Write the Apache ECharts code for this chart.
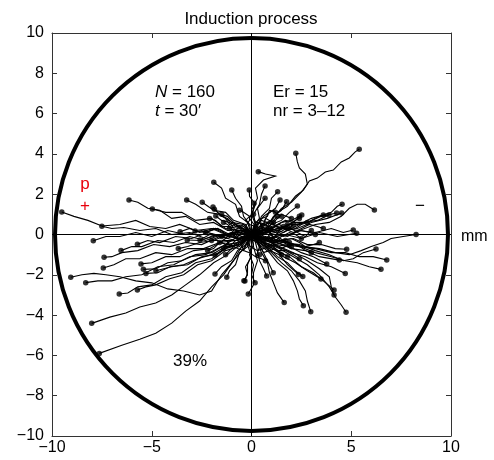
<!DOCTYPE html>
<html>
<head>
<meta charset="utf-8">
<script src="https://cdn.jsdelivr.net/npm/echarts@6.0.0/dist/echarts.min.js"></script>
<style>
  html, body { margin: 0; padding: 0; background: #fff; }
  #chart { width: 494px; height: 460px; }
</style>
</head>
<body>
<div id="chart"></div>
<script>
// tracks, every one starts at the origin, last point = end dot
const leftTracks = [
  [[0,0],[-0.6,0.2],[-1.3,0.0],[-2.0,0.3],[-2.8,0.2],[-3.6,0.5],[-4.3,0.3],[-5.1,0.4],[-5.8,0.7],[-6.6,0.5],[-7.5,0.42],[-8.2,0.7],[-8.9,0.9],[-9.51,1.12]],
  [[0,0],[-0.7,-0.2],[-1.5,0.0],[-2.3,-0.2],[-3.1,0.1],[-4.0,0.0],[-4.8,0.3],[-5.6,0.2],[-6.4,0.35],[-7.0,0.3],[-7.5,0.41]],
  [[0,0],[-0.5,0.3],[-1.2,0.2],[-1.9,0.6],[-2.6,0.5],[-3.3,0.9],[-4.0,0.8],[-4.6,1.2],[-5.2,1.3],[-5.7,1.6],[-6.14,1.71]],
  [[0,0],[-0.6,0.4],[-1.3,0.3],[-2.0,0.8],[-2.8,0.7],[-3.5,1.1],[-4.3,1.1],[-4.97,1.27]],
  [[0,0],[-0.4,0.5],[-1.0,0.6],[-1.6,1.0],[-2.2,1.1],[-2.8,1.5],[-3.25,1.71]],
  [[0,0],[-0.3,0.5],[-0.9,0.7],[-1.3,1.1],[-1.9,1.2],[-2.47,1.6]],
  [[0,0],[-0.2,0.6],[-0.6,0.9],[-0.8,1.5],[-1.3,1.8],[-1.5,2.3],[-1.89,2.59]],
  [[0,0],[-0.8,0.1],[-1.6,-0.1],[-2.5,0.2],[-3.3,0.0],[-4.2,0.2],[-5.0,-0.1],[-5.8,0.1],[-6.6,-0.1],[-7.3,-0.1],[-7.93,-0.31]],
  [[0,0],[-0.7,-0.2],[-1.5,0.0],[-2.3,-0.3],[-3.1,-0.1],[-3.9,-0.4],[-4.7,-0.3],[-5.5,-0.6],[-6.0,-0.6],[-6.54,-0.8]],
  [[0,0],[-0.8,-0.3],[-1.6,-0.1],[-2.5,-0.5],[-3.3,-0.4],[-4.1,-0.6],[-4.9,-0.5],[-5.7,-0.8],[-6.5,-0.9],[-7.0,-1.1],[-7.39,-1.13]],
  [[0,0],[-0.7,0.1],[-1.4,-0.1],[-2.2,0.1],[-3.0,-0.2],[-3.8,-0.1],[-4.6,-0.4],[-5.2,-0.3],[-5.72,-0.49]],
  [[0,0],[-0.6,-0.2],[-1.2,0.0],[-1.9,-0.3],[-2.6,-0.4],[-3.2,-0.6],[-3.67,-0.7]],
  [[0,0],[-0.5,0.2],[-1.1,0.0],[-1.7,0.3],[-2.3,0.1],[-2.83,0.17]],
  [[0,0],[-0.4,0.4],[-0.8,0.5],[-1.2,0.9],[-1.6,1.0],[-1.93,1.36]],
  [[0,0],[-0.8,-0.3],[-1.6,-0.4],[-2.4,-0.7],[-3.2,-0.7],[-4.0,-1.0],[-4.8,-0.9],[-5.6,-1.2],[-6.3,-1.2],[-6.9,-1.5],[-7.43,-1.66]],
  [[0,0],[-0.7,-0.3],[-1.4,-0.3],[-2.1,-0.7],[-2.9,-0.8],[-3.6,-1.1],[-4.3,-1.1],[-5.0,-1.4],[-5.54,-1.46]],
  [[0,0],[-0.6,-0.4],[-1.3,-0.5],[-2.0,-0.9],[-2.8,-1.0],[-3.5,-1.3],[-4.2,-1.4],[-4.8,-1.7],[-5.42,-1.73]],
  [[0,0],[-0.6,-0.5],[-1.3,-0.6],[-2.0,-1.0],[-2.7,-1.2],[-3.4,-1.5],[-4.1,-1.6],[-4.7,-1.9],[-5.29,-1.93]],
  [[0,0],[-0.5,-0.5],[-1.2,-0.6],[-1.8,-1.0],[-2.5,-1.1],[-3.2,-1.5],[-4.0,-1.6],[-4.79,-1.8]],
  [[0,0],[-0.5,-0.6],[-0.9,-1.3],[-1.5,-2.0],[-2.0,-2.8],[-2.6,-3.0],[-3.4,-2.8],[-4.2,-2.7],[-5.0,-2.4],[-5.8,-2.3],[-6.6,-2.1],[-7.3,-2.0],[-7.9,-1.93],[-8.5,-2.0],[-9.06,-2.12]],
  [[0,0],[-0.7,-0.4],[-1.5,-0.6],[-2.3,-1.0],[-3.1,-1.1],[-3.9,-1.5],[-4.7,-1.6],[-5.5,-2.0],[-6.3,-2.1],[-7.0,-2.3],[-7.7,-2.3],[-8.31,-2.39]],
  [[0,0],[-0.6,-0.5],[-1.3,-0.7],[-2.0,-1.2],[-2.8,-1.4],[-3.5,-1.9],[-4.3,-2.1],[-5.0,-2.5],[-5.7,-2.6],[-6.2,-2.9],[-6.63,-2.95]],
  [[0,0],[-0.6,-0.6],[-1.3,-0.8],[-2.0,-1.3],[-2.7,-1.5],[-3.4,-2.0],[-4.1,-2.2],[-4.8,-2.5],[-5.3,-2.6],[-5.72,-2.75]],
  [[0,0],[-0.6,-0.5],[-1.2,-1.0],[-1.9,-1.4],[-2.6,-2.0],[-3.3,-2.5],[-4.0,-3.0],[-4.8,-3.4],[-5.6,-3.6],[-6.3,-3.9],[-7.1,-4.1],[-8.01,-4.41]],
  [[0,0],[-0.4,-0.7],[-0.9,-1.3],[-1.4,-2.0],[-2.0,-2.6],[-2.6,-3.3],[-3.3,-3.8],[-4.0,-4.4],[-4.8,-4.9],[-5.6,-5.2],[-6.5,-5.5],[-7.63,-5.9]],
  [[0,0],[-0.3,-0.5],[-0.7,-0.8],[-1.0,-1.3],[-1.5,-1.6],[-1.83,-1.96]],
  [[0,0],[-0.2,-0.6],[-0.6,-0.9],[-0.8,-1.5],[-1.1,-1.8],[-1.24,-2.12]],
  [[0,0],[-0.2,-0.5],[0.0,-1.1],[-0.3,-1.6],[-0.2,-2.0],[-0.38,-2.29]],
  [[0,0],[0.1,-0.6],[0.3,-1.3],[0.1,-1.9],[0.1,-2.5],[-0.16,-2.95]],
  [[0,0],[-0.4,0.3],[-0.8,0.4],[-1.2,0.8],[-1.5,0.9],[-1.86,1.25]],
  [[0,0],[-0.1,0.5],[-0.4,0.9],[-0.5,1.4],[-0.8,1.8],[-0.99,2.21]],
  [[0,0],[0.2,0.5],[0.0,1.0],[0.2,1.5],[-0.1,1.9],[-0.11,2.21]],
  [[0,0],[-0.4,0.2],[-0.8,0.2],[-1.1,0.6],[-1.5,0.7],[-1.79,0.92]],
  [[0,0],[-0.6,0.2],[-1.2,0.0],[-1.9,0.3],[-2.6,0.1],[-3.1,0.3],[-3.58,0.14]],
  [[0,0],[-0.6,0.1],[-1.2,-0.2],[-1.8,0.0],[-2.5,-0.3],[-3.22,-0.27]],
  [[0,0],[-0.5,-0.1],[-1.0,0.1],[-1.6,-0.1],[-2.1,0.0],[-2.58,-0.27]],
  [[0,0],[-0.4,-0.2],[-0.8,-0.3],[-1.1,-0.6],[-1.5,-0.8],[-1.83,-1.02]]
];

const rightTracks = [
  [[0,0],[0.4,0.4],[0.9,0.6],[1.3,1.1],[1.8,1.4],[2.2,1.9],[2.6,2.2],[2.9,2.66],[3.3,2.8],[3.7,3.1],[4.1,3.2],[4.5,3.6],[4.9,3.8],[5.2,4.1],[5.4,4.23]],
  [[0,0],[0.5,0.5],[1.0,0.7],[1.5,1.3],[2.0,1.6],[2.5,2.1],[2.8,2.5],[2.7,3.0],[2.4,3.3],[2.3,3.6],[2.22,4.03]],
  [[0,0],[0.2,0.6],[0.0,1.2],[0.3,1.8],[0.2,2.3],[0.6,2.7],[1.2,2.9],[0.7,3.0],[0.34,3.12]],
  [[0,0],[0.2,0.5],[0.1,1.0],[0.4,1.5],[0.5,2.0],[0.68,2.41]],
  [[0,0],[0.3,0.4],[0.5,0.9],[0.9,1.3],[1.0,1.8],[1.31,2.12]],
  [[0,0],[0.1,0.4],[0.4,0.8],[0.3,1.3],[0.68,1.8]],
  [[0,0],[0.3,0.3],[0.6,0.5],[0.8,1.0],[1.2,1.3],[1.43,1.71]],
  [[0,0],[0.4,0.3],[0.8,0.4],[1.1,0.9],[1.5,1.2],[1.76,1.63]],
  [[0,0],[0.2,0.4],[-0.1,0.8],[0.1,1.2],[0.13,1.55]],
  [[0,0],[0.5,0.2],[1.0,0.5],[1.5,0.7],[1.9,1.1],[2.3,1.41]],
  [[0,0],[0.7,0.2],[1.4,0.1],[2.1,0.5],[2.8,0.6],[3.4,0.9],[4.0,1.1],[4.3,1.4],[4.54,1.5]],
  [[0,0],[0.8,0.1],[1.6,0.3],[2.4,0.2],[3.2,0.5],[3.9,0.6],[4.5,0.9],[4.9,1.3],[5.3,1.5],[5.7,1.5],[6.16,1.22]],
  [[0,0],[0.6,0.2],[1.2,0.1],[1.8,0.5],[2.4,0.5],[3.0,0.8],[3.6,0.97]],
  [[0,0],[0.7,0.1],[1.3,0.3],[2.0,0.3],[2.6,0.6],[3.3,0.7],[3.88,0.97]],
  [[0,0],[0.7,0.3],[1.4,0.2],[2.1,0.6],[2.8,0.6],[3.5,0.9],[4.27,1.07]],
  [[0,0],[0.8,0.1],[1.5,0.4],[2.3,0.3],[3.0,0.6],[3.8,0.8],[4.52,1.07]],
  [[0,0],[0.8,0.1],[1.6,-0.1],[2.4,0.2],[3.2,0.1],[4.0,0.3],[4.6,0.1],[5.1,0.22]],
  [[0,0],[0.8,-0.2],[1.7,0.0],[2.5,-0.2],[3.4,0.1],[4.3,-0.1],[5.27,0.06]],
  [[0,0],[0.8,-0.3],[1.7,-0.4],[2.6,-0.6],[3.4,-0.7],[4.2,-0.9],[4.9,-1.0],[5.5,-0.8],[6.0,-0.6],[6.6,-0.4],[7.0,-0.2],[7.6,-0.1],[8.25,0.0]],
  [[0,0],[0.7,-0.1],[1.4,-0.3],[2.1,-0.2],[2.8,-0.5],[3.5,-0.5],[4.2,-0.7],[4.77,-0.73]],
  [[0,0],[0.8,-0.2],[1.6,-0.4],[2.4,-0.5],[3.2,-0.8],[3.9,-1.0],[4.6,-1.3],[5.1,-1.2],[5.6,-0.9],[6.24,-0.72]],
  [[0,0],[0.8,-0.3],[1.6,-0.3],[2.4,-0.6],[3.2,-0.7],[4.0,-0.9],[4.7,-0.9],[5.4,-1.1],[6.1,-1.1],[6.78,-1.27]],
  [[0,0],[0.6,-0.3],[1.3,-0.4],[2.0,-0.7],[2.7,-0.8],[3.4,-1.1],[4.4,-1.27]],
  [[0,0],[0.8,-0.3],[1.6,-0.5],[2.4,-0.6],[3.2,-0.9],[4.0,-1.1],[4.7,-1.3],[5.3,-1.4],[5.9,-1.6],[6.49,-1.73]],
  [[0,0],[0.6,-0.4],[1.3,-0.6],[2.0,-0.9],[2.7,-1.1],[3.3,-1.4],[4.0,-1.6],[4.7,-1.93]],
  [[0,0],[0.5,-0.4],[1.1,-0.7],[1.6,-1.1],[2.2,-1.4],[2.8,-1.8],[3.48,-2.21]],
  [[0,0],[0.4,-0.4],[0.9,-0.7],[1.3,-1.1],[1.8,-1.4],[2.2,-1.8],[2.57,-2.09]],
  [[0,0],[0.5,-0.3],[0.9,-0.8],[1.4,-1.0],[1.8,-1.5],[2.35,-1.98]],
  [[0,0],[0.6,-0.4],[1.2,-0.8],[1.9,-1.1],[2.5,-1.6],[3.1,-1.9],[3.6,-2.3],[4.14,-2.75]],
  [[0,0],[0.7,-0.3],[1.4,-0.6],[2.1,-0.9],[2.8,-1.3],[3.4,-1.7],[3.9,-2.1],[4.0,-2.6],[4.14,-3.0]],
  [[0,0],[0.7,-0.4],[1.4,-0.7],[2.1,-1.1],[2.8,-1.5],[3.4,-2.0],[3.9,-2.6],[4.2,-3.1],[4.5,-3.5],[4.74,-3.86]],
  [[0,0],[0.5,-0.5],[1.0,-0.9],[1.5,-1.4],[2.0,-1.8],[2.4,-2.3],[2.7,-2.8],[2.8,-3.3],[2.97,-3.83]],
  [[0,0],[0.4,-0.5],[0.9,-0.9],[1.3,-1.4],[1.8,-1.8],[2.1,-2.3],[2.3,-2.8],[2.4,-3.2],[2.6,-3.53]],
  [[0,0],[0.3,-0.4],[0.5,-0.9],[0.8,-1.4],[0.9,-1.9],[1.1,-2.4],[1.3,-2.9],[1.64,-3.38]],
  [[0,0],[0.2,-0.4],[0.3,-0.8],[0.4,-1.3],[0.6,-1.7],[0.76,-2.06]],
  [[0,0],[0.3,-0.3],[0.5,-0.7],[0.7,-1.1],[0.9,-1.5],[1.09,-1.9]],
  [[0,0],[0.1,-0.5],[-0.1,-1.0],[0.1,-1.5],[0.0,-2.0],[0.18,-2.39]],
  [[0,0],[-0.1,-0.5],[0.0,-1.0],[-0.2,-1.5],[-0.2,-1.9],[-0.33,-2.31]],
  [[0,0],[0.6,-0.2],[1.2,-0.5],[1.9,-0.6],[2.5,-0.9],[3.1,-1.1],[3.77,-1.46]],
  [[0,0],[0.5,0.2],[1.0,0.3],[1.5,0.6],[2.0,0.7],[2.52,0.97]]
];

// short ones that make the dark knot round the origin
const centerTracks = [
  [[0,0],[0.3,0.2],[0.5,-0.1],[0.8,0.3],[1.1,-0.2],[1.4,0.2],[1.6,0.4]],
  [[0,0],[-0.2,0.3],[-0.4,0.5],[-0.7,0.3],[-0.9,0.2],[-1.2,0.5],[-1.4,0.6]],
  [[0,0],[0.3,-0.2],[0.6,-0.4],[0.9,-0.2],[1.2,-0.1],[1.6,-0.4],[2.0,-0.6]],
  [[0,0],[-0.3,-0.1],[-0.5,-0.3],[-0.8,-0.1],[-1.0,0.1],[-1.3,-0.2],[-1.6,-0.4]],
  [[0,0],[0.2,0.3],[0.3,0.6],[0.6,0.5],[0.9,0.4],[1.1,0.7],[1.3,0.9]],
  [[0,0],[0.2,-0.3],[0.4,-0.6],[0.3,-0.9],[0.2,-1.1],[0.5,-1.2],[0.7,-1.3]],
  [[0,0],[-0.2,0.2],[-0.3,0.4],[-0.1,0.7],[-0.1,0.9],[-0.4,1.1],[-0.6,1.2]],
  [[0,0],[0.4,0.1],[0.7,0.1],[1.0,0.4],[1.4,0.5],[1.8,0.2],[2.2,0.3],[2.5,0.5],[2.8,0.6]],
  [[0,0],[0.4,-0.1],[0.8,-0.2],[1.1,-0.5],[1.5,-0.7],[1.9,-0.5],[2.3,-0.5],[2.7,-0.8],[3.0,-0.9]],
  [[0,0],[-0.3,0.1],[-0.7,-0.1],[-1.0,-0.3],[-1.3,-0.5],[-1.7,-0.3],[-2.0,-0.3]],
  [[0,0],[-0.3,0.2],[-0.6,0.2],[-0.9,0.0],[-1.2,-0.1],[-1.5,0.2],[-1.8,0.3],[-2.3,0.1]],
  [[0,0],[0.2,0.4],[0.5,0.7],[0.8,0.6],[1.0,0.5],[1.3,0.8],[1.5,1.0],[2.0,0.8]],
  [[0,0],[0.3,-0.4],[0.6,-0.9],[0.9,-0.8],[1.2,-0.7],[1.5,-0.9],[1.8,-1.1]],
  [[0,0],[-0.2,-0.3],[-0.2,-0.5],[0.1,-0.7],[0.3,-0.8],[0.6,-0.7],[0.9,-0.6]],
  [[0,0],[0.2,0.2],[0.2,0.4],[-0.1,0.5],[-0.3,0.7],[-0.1,0.9],[0.1,1.0]],
  [[0,0],[0.5,0.1],[1.0,0.2],[1.4,0.0],[1.8,-0.1],[2.2,0.1],[2.5,0.2],[2.9,0.1],[3.2,0.0]],
  [[0,0],[0.4,0.3],[0.9,0.6],[1.3,0.4],[1.7,0.3],[2.0,0.6],[2.4,0.8]],
  [[0,0],[-0.4,0.3],[-0.8,0.5],[-1.1,0.4],[-1.5,0.4],[-1.8,0.7],[-2.1,0.8]],
  [[0,0],[-0.4,-0.3],[-0.9,-0.6],[-1.2,-0.5],[-1.6,-0.4],[-1.9,-0.7],[-2.2,-0.8]],
  [[0,0],[0.2,0.1],[0.4,0.2],[0.6,-0.1],[0.8,-0.3],[1.1,-0.2],[1.3,-0.1],[1.6,-0.3],[1.9,-0.4]],
  [[0,0],[0.3,0.5],[0.6,0.9],[0.9,1.1],[1.1,1.2],[1.3,1.0],[1.5,0.9]],
  [[0,0],[0.4,-0.2],[0.7,-0.3],[0.9,0.0],[1.0,0.3],[1.3,0.2],[1.6,0.1],[1.9,0.3],[2.1,0.5]],
  [[0,0],[-0.2,-0.4],[-0.4,-0.8],[-0.7,-0.7],[-0.9,-0.6],[-1.1,-0.8],[-1.3,-1.0]],
  [[0,0],[0.2,-0.2],[0.3,-0.3],[0.6,-0.2],[0.9,-0.1],[1.1,-0.3],[1.2,-0.5],[1.5,-0.4],[1.7,-0.3]],
  [[0,0],[0.6,-0.2],[1.1,-0.4],[1.5,-0.3],[2.0,-0.2],[2.4,-0.4],[2.7,-0.6],[3.1,-0.5],[3.4,-0.4]],
  [[0,0],[0.6,0.2],[1.2,0.4],[1.6,0.3],[2.1,0.1],[2.5,0.3],[2.9,0.5],[3.3,0.4],[3.6,0.3]],
  [[0,0],[0.3,0.1],[0.5,0.1],[0.6,0.5],[0.7,0.8],[0.9,0.7],[1.1,0.6]],
  [[0,0],[-0.1,0.2],[-0.2,0.3],[-0.5,0.1],[-0.7,-0.1],[-0.9,0.1],[-1.1,0.3]],
  [[0,0],[0.2,-0.2],[0.4,0.0],[0.6,0.2],[0.5,0.4],[0.4,0.6],[0.7,0.5],[0.9,0.3]],
  [[0,0],[0.4,0.2],[0.8,0.3],[1.0,0.0],[1.2,-0.3],[1.5,-0.1],[1.9,0.1],[2.2,0.0],[2.5,-0.2]],
  [[0,0],[-0.3,-0.2],[-0.5,-0.5],[-0.4,-0.8],[-0.1,-0.9],[0.2,-1.1],[0.4,-1.0]],
  [[0,0],[0.3,0.3],[0.2,0.6],[0.5,0.8],[0.8,0.9],[0.9,1.2],[1.2,1.1]],
  [[0,0],[-0.3,0.1],[-0.6,0.3],[-0.9,0.6],[-1.1,0.5],[-1.3,0.8],[-1.5,1.0]],
  [[0,0],[0.5,-0.4],[0.9,-0.5],[1.3,-0.8],[1.7,-0.8],[2.1,-1.0],[2.4,-1.2]],
  [[0,0],[0.5,0.3],[0.9,0.2],[1.3,0.5],[1.7,0.7],[2.1,0.6],[2.4,0.9]],
  [[0,0],[-0.2,-0.2],[-0.5,-0.1],[-0.7,-0.4],[-1.0,-0.6],[-1.2,-0.4],[-1.4,-0.7]],
  [[0,0],[0.6,0.1],[1.1,-0.1],[1.6,0.1],[2.0,0.3],[2.3,0.1],[2.7,-0.1],[3.0,0.2]],
  [[0,0],[0.1,-0.3],[0.4,-0.4],[0.7,-0.6],[1.0,-0.5],[1.3,-0.8],[1.5,-1.0]],
  [[0,0],[-0.2,0.1],[-0.5,-0.2],[-0.8,-0.2],[-0.9,0.1],[-1.2,0.0],[-1.5,-0.1]],
  [[0,0],[0.3,-0.1],[0.6,0.1],[0.9,0.2],[1.2,0.4],[1.5,0.3],[1.8,0.5]]
];

const ringR = 9.8;   // radius of the big circle, mm
const axisMin = -10;
const axisMax = 10;

const tracks = leftTracks.concat(rightTracks, centerTracks);
const ends = tracks.map(t => t[t.length - 1]);

const minus = v => String(v).replace('-', '\u2212');
const FONT = 'Liberation Sans, Arial, Helvetica, sans-serif';

function axisX(pos, labels) {
  return {
    type: 'value', position: pos, min: axisMin, max: axisMax, interval: 5,
    axisLine: { show: true, onZero: false, lineStyle: { color: '#333', width: 1 } },
    axisTick: { show: true, inside: true, length: 5, lineStyle: { color: '#333' } },
    axisLabel: { show: labels, formatter: minus, color: '#000', fontSize: 16, fontFamily: FONT, margin: 4 },
    splitLine: { show: false }
  };
}
function axisY(pos, labels) {
  return {
    type: 'value', position: pos, min: axisMin, max: axisMax, interval: 2,
    axisLine: { show: true, onZero: false, lineStyle: { color: '#333', width: 1 } },
    axisTick: { show: true, inside: true, length: 5, lineStyle: { color: '#333' } },
    axisLabel: { show: labels, formatter: minus, color: '#000', fontSize: 16, fontFamily: FONT, margin: 8 },
    splitLine: { show: false }
  };
}

function txt(x, y, text, extra) {
  return {
    type: 'text', x: x, y: y, silent: true,
    style: Object.assign({
      text: text, fill: '#000', font: '17px ' + FONT,
      textAlign: 'left', textVerticalAlign: 'middle'
    }, extra || {})
  };
}

const chart = echarts.init(document.getElementById('chart'));
chart.setOption({
  animation: false,
  backgroundColor: '#fff',
  grid: { left: 52, right: 43, top: 33, bottom: 24, containLabel: false },
  xAxis: [axisX('bottom', true), axisX('top', false)],
  yAxis: [axisY('left', true), axisY('right', false)],
  graphic: [
    txt(251, 19, 'Induction process', { textAlign: 'center' }),
    txt(155, 92, '{i|N} = 160', { rich: { i: { fontStyle: 'italic', fontSize: 17, fontFamily: FONT } } }),
    txt(155, 111, '{i|t} = 30\u2032', { rich: { i: { fontStyle: 'italic', fontSize: 17, fontFamily: FONT } } }),
    txt(273, 92, 'Er = 15'),
    txt(273, 111, 'nr = 3\u201312'),
    txt(190, 361, '39%', { textAlign: 'center' }),
    txt(85, 184, 'p', { textAlign: 'center', fill: '#e8000b' }),
    txt(85, 206, '+', { textAlign: 'center', fill: '#e8000b' }),
    txt(420, 206, '\u2212', { textAlign: 'center' }),
    txt(461, 237, 'mm', { font: '16px ' + FONT })
  ],
  series: [
    {
      type: 'lines',
      coordinateSystem: 'cartesian2d',
      polyline: true,
      silent: true,
      data: tracks.map(t => ({ coords: t })),
      lineStyle: { color: '#000', width: 1.1, opacity: 1 },
      z: 2
    },
    {
      type: 'scatter',
      data: ends,
      symbol: 'circle',
      symbolSize: 5.5,
      silent: true,
      itemStyle: { color: '#000' },
      z: 3,
      markLine: {
        silent: true,
        symbol: 'none',
        label: { show: false },
        lineStyle: { color: '#000', width: 1, type: 'solid' },
        data: [{ xAxis: 0 }, { yAxis: 0 }]
      }
    },
    {
      type: 'custom',
      silent: true,
      data: [[0, 0]],
      z: 4,
      renderItem: function (params, api) {
        const c = api.coord([api.value(0), api.value(1)]);
        const s = api.size([ringR, ringR]);
        return {
          type: 'circle',
          shape: { cx: c[0], cy: c[1], r: (s[0] + s[1]) / 2 },
          style: { fill: 'none', stroke: '#000', lineWidth: 4 }
        };
      }
    }
  ]
});
</script>
</body>
</html>
